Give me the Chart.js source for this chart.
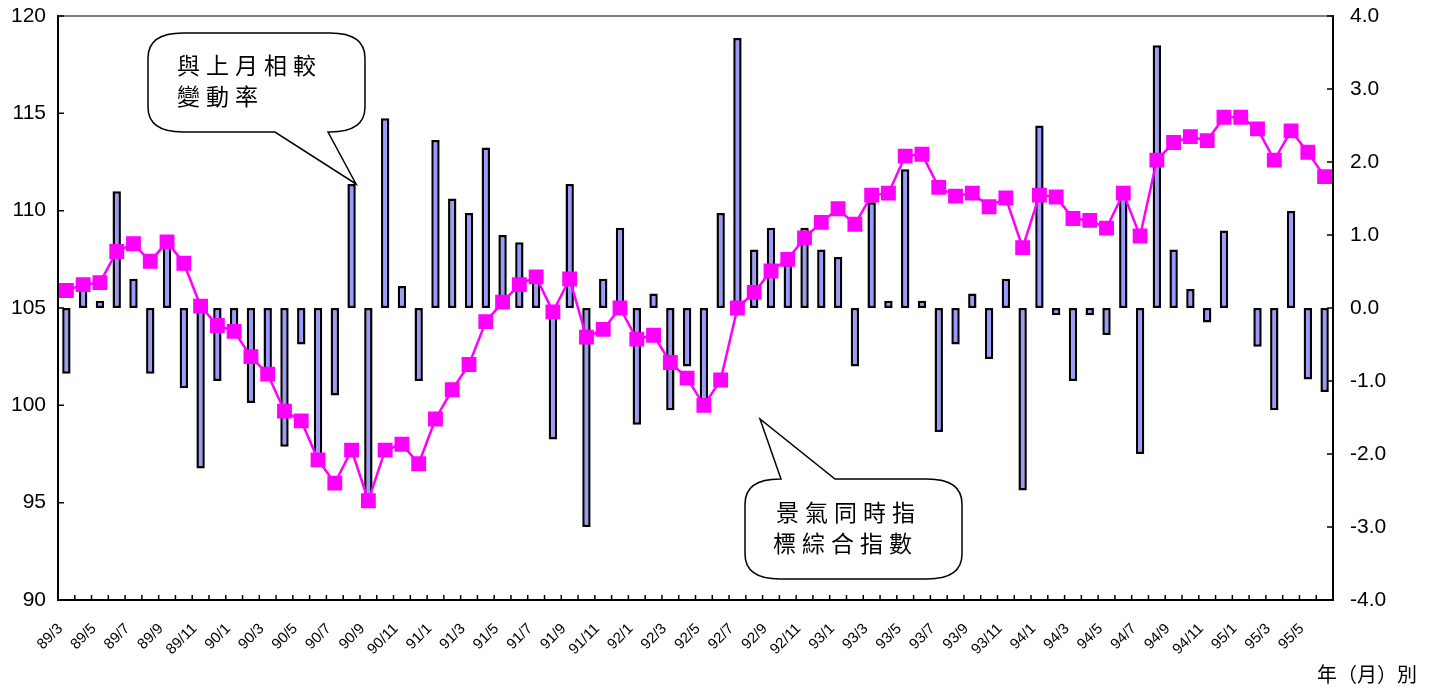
<!DOCTYPE html>
<html lang="zh-Hant">
<head>
<meta charset="UTF-8">
<title>景氣同時指標綜合指數</title>
<script src="https://cdn.jsdelivr.net/npm/chart.js"></script>
<style>
  body { margin: 0; background: #fff; }
  #wrap { position: relative; width: 1434px; height: 688px; }
</style>
</head>
<body>
<div id="wrap"><canvas id="cycleChart"></canvas></div>
<script>
// months 89/3 .. 95/6
const months = [
  '89/3','89/4','89/5','89/6','89/7','89/8','89/9','89/10','89/11','89/12',
  '90/1','90/2','90/3','90/4','90/5','90/6','90/7','90/8','90/9','90/10','90/11','90/12',
  '91/1','91/2','91/3','91/4','91/5','91/6','91/7','91/8','91/9','91/10','91/11','91/12',
  '92/1','92/2','92/3','92/4','92/5','92/6','92/7','92/8','92/9','92/10','92/11','92/12',
  '93/1','93/2','93/3','93/4','93/5','93/6','93/7','93/8','93/9','93/10','93/11','93/12',
  '94/1','94/2','94/3','94/4','94/5','94/6','94/7','94/8','94/9','94/10','94/11','94/12',
  '95/1','95/2','95/3','95/4','95/5','95/6'
];

// only every other month gets a label
const tickLabels = months.map((m, i) => (i % 2 === 0 ? m : ''));

// 景氣同時指標綜合指數 (left axis)
const indexValues = [
  105.9, 106.2, 106.3, 107.9, 108.3, 107.4, 108.4, 107.3, 105.1, 104.1,
  103.8, 102.5, 101.6, 99.7, 99.2, 97.2, 96.0, 97.7, 95.1, 97.7,
  98.0, 97.0, 99.3, 100.8, 102.1, 104.3, 105.3, 106.2, 106.6, 104.8,
  106.5, 103.5, 103.9, 105.0, 103.4, 103.6, 102.2, 101.4, 100.0, 101.3,
  105.0, 105.8, 106.9, 107.5, 108.6, 109.4, 110.1, 109.3, 110.8, 110.9,
  112.8, 112.9, 111.2, 110.75, 110.9, 110.2, 110.65, 108.1, 110.8, 110.7,
  109.6, 109.5, 109.1, 110.9, 108.7, 112.6, 113.5, 113.8, 113.6, 114.8,
  114.8, 114.2, 112.6, 114.1, 113.0, 111.75
];

// 與上月相較變動率 (%, right axis)
const changeRates = [
  -0.9, 0.3, 0.1, 1.6, 0.4, -0.9, 0.92, -1.1, -2.2, -1.0,
  -0.3, -1.3, -0.9, -1.9, -0.5, -2.1, -1.2, 1.7, -2.65, 2.6,
  0.3, -1.0, 2.3, 1.5, 1.3, 2.2, 1.0, 0.9, 0.4, -1.8,
  1.7, -3.0, 0.4, 1.1, -1.6, 0.2, -1.4, -0.8, -1.35, 1.3,
  3.7, 0.8, 1.1, 0.6, 1.1, 0.8, 0.7, -0.8, 1.45, 0.1,
  1.9, 0.1, -1.7, -0.5, 0.2, -0.7, 0.4, -2.5, 2.5, -0.1,
  -1.0, -0.1, -0.37, 1.6, -2.0, 3.6, 0.8, 0.26, -0.2, 1.06,
  0, -0.53, -1.4, 1.33, -0.98, -1.15
];

const latin = '"Liberation Sans", Arial, sans-serif';
const cjk = '"Noto Sans CJK TC", "Noto Sans CJK SC", sans-serif';

// speech bubble (rounded box with a pointed tail)
function drawBubble(ctx, b) {
  const { l, t, r, btm, rx, ry, tail } = b;
  ctx.beginPath();
  ctx.moveTo(l + rx, t);
  if (tail.side === 'top') {
    ctx.lineTo(tail.a, t);
    ctx.lineTo(tail.tipX, tail.tipY);
    ctx.lineTo(tail.b, t);
  }
  ctx.lineTo(r - rx, t);
  ctx.quadraticCurveTo(r, t, r, t + ry);
  ctx.lineTo(r, btm - ry);
  ctx.quadraticCurveTo(r, btm, r - rx, btm);
  if (tail.side === 'bottom') {
    ctx.lineTo(tail.b, btm);
    ctx.lineTo(tail.tipX, tail.tipY);
    ctx.lineTo(tail.a, btm);
  }
  ctx.lineTo(l + rx, btm);
  ctx.quadraticCurveTo(l, btm, l, btm - ry);
  ctx.lineTo(l, t + ry);
  ctx.quadraticCurveTo(l, t, l + rx, t);
  ctx.closePath();
  ctx.fillStyle = '#fff';
  ctx.fill();
  ctx.strokeStyle = '#000';
  ctx.lineWidth = 1.5;
  ctx.stroke();
}

function drawSpaced(ctx, text, x, y, step) {
  [...text].forEach((ch, i) => ctx.fillText(ch, x + i * step, y));
}

const decorations = {
  id: 'decorations',
  afterDraw(chart) {
    const { ctx, chartArea: a, scales } = chart;
    ctx.save();

    // grey frame line along the top
    ctx.strokeStyle = '#808080';
    ctx.lineWidth = 2;
    ctx.beginPath();
    ctx.moveTo(a.left, a.top);
    ctx.lineTo(a.right, a.top);
    ctx.stroke();

    // tick marks point inwards
    ctx.strokeStyle = '#000';
    ctx.lineWidth = 1.5;
    ctx.beginPath();
    scales.y.ticks.forEach(tk => {
      const py = scales.y.getPixelForValue(tk.value);
      ctx.moveTo(a.left, py);
      ctx.lineTo(a.left + 6, py);
    });
    scales.y1.ticks.forEach(tk => {
      const py = scales.y1.getPixelForValue(tk.value);
      ctx.moveTo(a.right - 6, py);
      ctx.lineTo(a.right, py);
    });
    for (let i = 0; i <= months.length; i++) {
      const px = scales.x.getPixelForValue(i - 0.5);
      ctx.moveTo(px, a.bottom);
      ctx.lineTo(px, a.bottom - 5);
    }
    ctx.stroke();

    // callouts
    drawBubble(ctx, { l: 148, t: 33, r: 365, btm: 132, rx: 35, ry: 25,
      tail: { side: 'bottom', a: 275, b: 328, tipX: 356, tipY: 184 } });
    drawBubble(ctx, { l: 745, t: 479, r: 962, btm: 579, rx: 35, ry: 25,
      tail: { side: 'top', a: 781, b: 835, tipX: 760, tipY: 419 } });

    ctx.fillStyle = '#000';
    ctx.font = '23px ' + cjk;
    ctx.textAlign = 'left';
    ctx.textBaseline = 'middle';
    drawSpaced(ctx, '與上月相較', 177, 65, 29);
    drawSpaced(ctx, '變動率', 177, 96, 29);
    drawSpaced(ctx, '景氣同時指', 776, 512, 29);
    drawSpaced(ctx, '標綜合指數', 773, 543, 29);

    // unit label
    ctx.font = '20px ' + cjk;
    ctx.fillText('年（月）別', 1317, 674);

    ctx.restore();
  }
};

// fixed axis sizes so the plot area lands where the original has it
function fixWidth(w) {
  return s => {
    s.width = w;
    s.paddingTop = 0;
    s.paddingBottom = 0;
  };
}

new Chart(document.getElementById('cycleChart'), {
  type: 'bar',
  data: {
    labels: months,
    datasets: [
      {
        type: 'line',
        label: '景氣同時指標綜合指數',
        data: indexValues,
        yAxisID: 'y',
        borderColor: '#FF00FF',
        backgroundColor: '#FF00FF',
        borderWidth: 2.5,
        pointStyle: 'rect',
        pointRadius: 10.5,
        pointBorderColor: '#FF00FF',
        pointBackgroundColor: '#FF00FF',
        pointBorderWidth: 0,
        tension: 0,
        order: 0
      },
      {
        label: '與上月相較變動率',
        data: changeRates,
        yAxisID: 'y1',
        backgroundColor: '#9999FF',
        borderColor: '#000',
        borderWidth: 2.5,
        borderSkipped: false,
        barPercentage: 0.5,
        categoryPercentage: 1,
        order: 1
      }
    ]
  },
  options: {
    responsive: true,
    maintainAspectRatio: false,
    animation: false,
    layout: { padding: { top: 16, left: 0, right: 0, bottom: 0 } },
    plugins: {
      legend: { display: false },
      tooltip: { enabled: false }
    },
    scales: {
      x: {
        grid: { display: false, drawTicks: false },
        border: { color: '#000', width: 2 },
        ticks: {
          autoSkip: false,
          minRotation: 45,
          maxRotation: 45,
          padding: 20,
          labelOffset: -6,
          color: '#000',
          font: { family: latin, size: 15 },
          callback: (v, i) => tickLabels[i]
        },
        afterFit: s => { s.height = 88; }
      },
      y: {
        position: 'left',
        min: 90,
        max: 120,
        grid: { display: false, drawTicks: false },
        border: { color: '#000', width: 2 },
        ticks: { stepSize: 5, padding: 12, color: '#000', font: { family: latin, size: 21 } },
        afterFit: fixWidth(58)
      },
      y1: {
        position: 'right',
        min: -4,
        max: 4,
        grid: { display: false, drawTicks: false },
        border: { color: '#000', width: 2 },
        ticks: {
          stepSize: 1,
          padding: 17,
          color: '#000',
          font: { family: latin, size: 21 },
          callback: v => v.toFixed(1)
        },
        afterFit: fixWidth(101)
      }
    }
  },
  plugins: [decorations]
});
</script>
</body>
</html>
